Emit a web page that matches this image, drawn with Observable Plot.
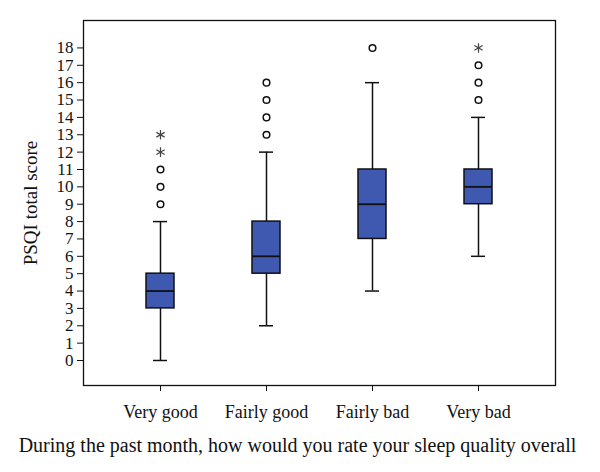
<!DOCTYPE html>
<html>
<head>
<meta charset="utf-8">
<script src="https://cdn.jsdelivr.net/npm/d3@7"></script>
<script src="https://cdn.jsdelivr.net/npm/@observablehq/plot@0.6"></script>
<style>
  html, body { margin: 0; padding: 0; background: #fff; }
  #chart { width: 600px; height: 472px; }
</style>
</head>
<body>
<div id="chart"></div>
<script>
const categories = ["Very good", "Fairly good", "Fairly bad", "Very bad"];
const whiskerLow = [0, 2, 4, 6];
const q1 = [3, 5, 7, 9];
const medians = [4, 6, 9, 10];
const q3 = [5, 8, 11, 11];
const whiskerHigh = [8, 12, 16, 14];
const outlierCircles = [
  ["Very good", 9], ["Very good", 10], ["Very good", 11],
  ["Fairly good", 13], ["Fairly good", 14], ["Fairly good", 15], ["Fairly good", 16],
  ["Fairly bad", 18],
  ["Very bad", 15], ["Very bad", 16], ["Very bad", 17]
];
const outlierStars = [
  ["Very good", 12], ["Very good", 13],
  ["Very bad", 18]
];
const yTicks = d3.range(0, 19);
const xTitle = "During the past month, how would you rate your sleep quality overall";
const yTitle = "PSQI total score";

const boxes = categories.map((c, i) => ({
  cat: c, lo: whiskerLow[i], q1: q1[i], med: medians[i], q3: q3[i], hi: whiskerHigh[i]
}));
const circles = outlierCircles.map(([cat, v]) => ({cat, v}));
const stars = outlierStars.map(([cat, v]) => ({cat, v}));

const chart = Plot.plot({
  width: 600,
  height: 472,
  marginLeft: 83,
  marginRight: 45,
  marginTop: 20,
  marginBottom: 87,
  style: {fontFamily: "Liberation Serif", fontSize: "17px", color: "#111", background: "#fff"},
  x: {domain: categories, paddingInner: 0.737, paddingOuter: 0.589, align: 0.5},
  y: {domain: [-1.44, 19.58]},
  marks: [
    Plot.frame({stroke: "#111", strokeWidth: 1.3}),
    Plot.axisY({ticks: yTicks, tickSize: 6, tickPadding: 4, fontSize: 17, label: null}),
    Plot.axisY({ticks: [], label: yTitle, labelAnchor: "center", labelArrow: "none", labelOffset: 60, fontSize: 19}),
    Plot.axisX({tickSize: 6, tickPadding: 14, fontSize: 18, label: null}),
    Plot.text([xTitle], {frameAnchor: "bottom", dy: 66, dx: -22, fontSize: 20, fill: "#111"}),
    Plot.ruleX(boxes, {x: "cat", y1: "lo", y2: "q1", stroke: "#111", strokeWidth: 1.5}),
    Plot.ruleX(boxes, {x: "cat", y1: "q3", y2: "hi", stroke: "#111", strokeWidth: 1.5}),
    Plot.tickY(boxes, {x: "cat", y: "lo", stroke: "#111", strokeWidth: 1.5, insetLeft: 7, insetRight: 7}),
    Plot.tickY(boxes, {x: "cat", y: "hi", stroke: "#111", strokeWidth: 1.5, insetLeft: 7, insetRight: 7}),
    Plot.barY(boxes, {x: "cat", y1: "q1", y2: "q3", fill: "#4059b0", stroke: "#111", strokeWidth: 1.5}),
    Plot.tickY(boxes, {x: "cat", y: "med", stroke: "#111", strokeWidth: 1.8}),
    Plot.dot(circles, {x: "cat", y: "v", r: 3.3, stroke: "#111", strokeWidth: 1.5, fill: "white"}),
    Plot.dot(stars, {x: "cat", y: "v", symbol: "asterisk", r: 4.5, stroke: "#444", strokeWidth: 1.2})
  ]
});
document.getElementById("chart").appendChild(chart);
</script>
</body>
</html>
